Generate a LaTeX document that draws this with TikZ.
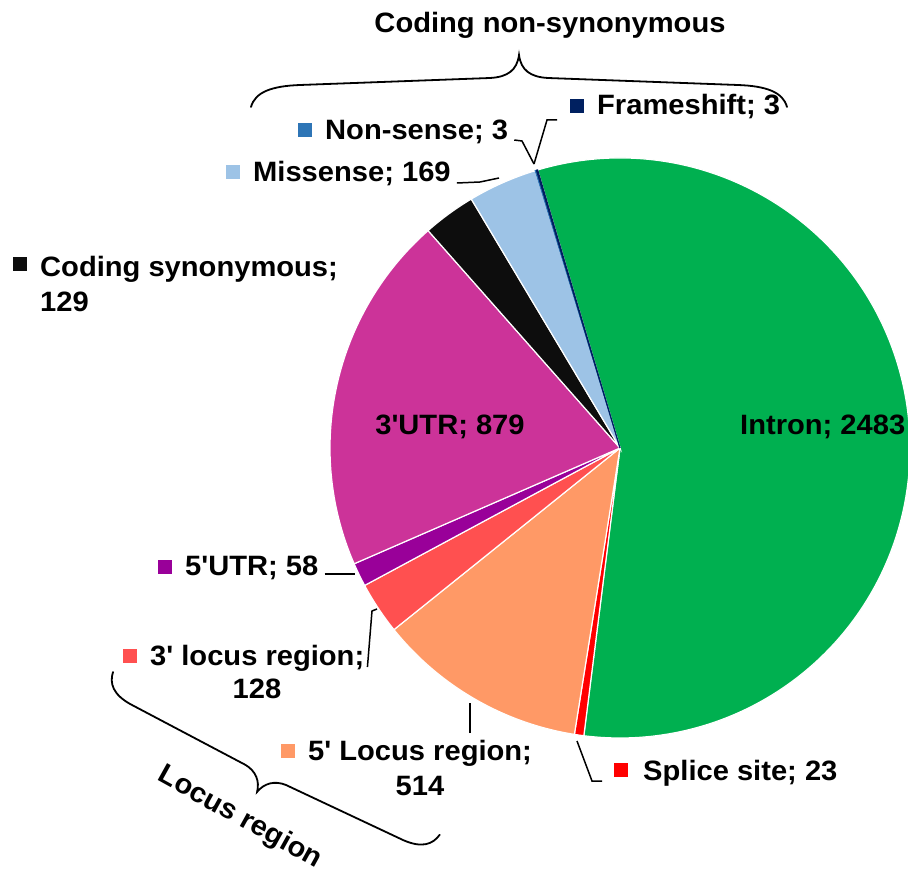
\documentclass[tikz,border=0pt]{standalone}
\usepackage{fontspec}
\setmainfont[Ligatures=TeXOff, FakeStretch=1.04]{Liberation Sans}
\definecolor{cIntron}{HTML}{00B050}
\definecolor{cSplice}{HTML}{FF0000}
\definecolor{cFiveL}{HTML}{FF9966}
\definecolor{cThreeL}{HTML}{FF5050}
\definecolor{cFiveU}{HTML}{990099}
\definecolor{cThreeU}{HTML}{CC3399}
\definecolor{cSyn}{HTML}{0D0D0D}
\definecolor{cMis}{HTML}{9DC3E6}
\definecolor{cNon}{HTML}{2E75B6}
\definecolor{cFrame}{HTML}{002060}
% one pie wedge: start angle, end angle (clockwise on screen), colour
\newcommand\pieslice[3]{%
  \filldraw[fill=#3, draw=white, line width=1.2]
    (C) -- ++(#1:290) arc[start angle=#1, end angle=#2, radius=290] -- cycle;}
\begin{document}
\begin{tikzpicture}[x=1pt, y=-1pt,
  lbl/.style={font=\bfseries\fontsize{28}{34}\selectfont, inner sep=0pt, anchor=base west},
  lblc/.style={lbl, anchor=base},
  keybox/.style={minimum size=14pt, inner sep=0pt, fill=#1},
  lead/.style={draw=black, line width=1.5pt},
  bracket/.style={draw=black, line width=1.8pt, line cap=round}]
\useasboundingbox (0,0) rectangle (908,874);
\coordinate (C) at (620,448);

% wedges, clockwise from the top
\pieslice{-106.5}{97.164}{cIntron}
\pieslice{97.164}{99.051}{cSplice}
\pieslice{99.051}{141.211}{cFiveL}
\pieslice{141.211}{151.710}{cThreeL}
\pieslice{151.710}{156.467}{cFiveU}
\pieslice{156.467}{228.565}{cThreeU}
\pieslice{228.565}{239.146}{cSyn}
\pieslice{239.146}{253.008}{cMis}
% the two thinnest wedges keep their own colour as outline
\filldraw[fill=cNon, draw=cNon, line width=1.1]
  (C) -- ++(253.008:290) arc[start angle=253.008, end angle=253.254, radius=290] -- cycle;
\filldraw[fill=cFrame, draw=cFrame, line width=1.1]
  (C) -- ++(253.254:290) arc[start angle=253.254, end angle=253.5, radius=290] -- cycle;

% labels inside the pie
\node[lbl] (intT) at (740,435) {Intron; 2483};
\node[lblc] (u3T) at (450,435) {3'UTR; 879};

% outside labels with colour keys
\node[keybox=cFrame] (frK) at (576.5,106.5) {};
\node[lbl] (frT) at (597,115) {Frameshift; 3};
\node[keybox=cNon] (nonK) at (304.5,130) {};
\node[lbl] (nonT) at (325,140) {Non-sense; 3};
\node[keybox=cMis] (misK) at (232.5,172.5) {};
\node[lbl] (misT) at (253,182) {Missense; 169};
\node[keybox=cSyn] (synK) at (20,264) {};
\node[lbl] (synT) at (40,277) {Coding synonymous;};
\node[lbl] (synN) at (40,312) {129};
\node[keybox=cFiveU] (u5K) at (164.5,566.5) {};
\node[lbl] (u5T) at (185,575) {5'UTR; 58};
\node[keybox=cThreeL] (l3K) at (129.5,655.5) {};
\node[lbl] (l3T) at (150,665) {3' locus region;};
\node[lblc] (l3N) at (257,698) {128};
\node[keybox=cFiveL] (l5K) at (287.5,750.5) {};
\node[lbl] (l5T) at (308,760) {5' Locus region;};
\node[lblc] (l5N) at (420,795) {514};
\node[keybox=cSplice] (spK) at (621,770) {};
\node[lbl] (spT) at (643,780) {Splice site; 23};

% leader lines
\coordinate (misB) at (480,182);
\coordinate (misE) at (499,178);
\draw[lead] ([xshift=6pt,yshift=-1pt]misT.base east) -- (misB) -- (misE);
\coordinate (nonB) at (522,141);
\coordinate (tipE) at (534,164);
\draw[lead] ([xshift=6pt]nonT.base east) -- (nonB) -- (tipE);
\coordinate (frB) at (547,120);
\coordinate (frE) at (557,120);
\draw[lead] (tipE) -- (frB) -- (frE);
\coordinate (u5E) at (355,574);
\draw[lead] ([xshift=6pt,yshift=1pt]u5T.base east) -- (u5E);
\coordinate (l3B) at (372,611);
\coordinate (l3E) at (377,609);
\draw[lead] ([xshift=3pt,yshift=-2pt]l3T.base east) -- (l3B) -- (l3E);
\coordinate (l5S) at (470,733);
\coordinate (l5E) at (470,703);
\draw[lead] (l5S) -- (l5E);
\coordinate (spS) at (602,781);
\coordinate (spB) at (592,781);
\coordinate (spE) at (577,741);
\draw[lead] (spS) -- (spB) -- (spE);

% group bracket over the coding classes
\node[lblc] (codT) at (550,33) {Coding non-synonymous};
\draw[bracket] (251,107) .. controls (255,92) and (272,86) .. (300,85)
  -- (490,78) .. controls (508,77) and (517,70) .. (519,55)
  .. controls (521,70) and (530,77) .. (548,78)
  -- (738,85) .. controls (766,86) and (783,92) .. (787,107);

% group bracket under the locus classes
\draw[bracket] (113,672) .. controls (109.4,683.6) and (113.0,694.4) .. (130.5,704.2)
  -- (245.5,764.9) .. controls (255.8,771.1) and (259.8,780.9) .. (257.1,791.9)
  .. controls (264.3,783.1) and (274.6,780.5) .. (285.8,784.9)
  -- (403.4,840.2) .. controls (421.8,848.2) and (432.5,844.6) .. (439.7,834.8);
\node[font=\bfseries\fontsize{28}{34}\selectfont, inner sep=0pt, rotate=-29]
  (locT) at (240,818) {Locus region};
\end{tikzpicture}
\end{document}
